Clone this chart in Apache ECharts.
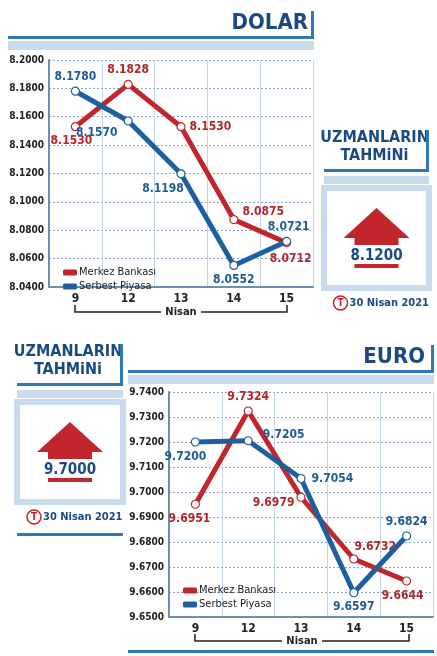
<!DOCTYPE html>
<html><head><meta charset="utf-8">
<script src="https://cdn.jsdelivr.net/npm/echarts@6/dist/echarts.min.js"></script>
<style>html,body{margin:0;padding:0;background:#fff}#c{width:437px;height:656px}</style>
</head><body><div id="c"></div>
<script>
const days = ['9','12','13','14','15'];
const dolarMerkez = [8.1530, 8.1828, 8.1530, 8.0875, 8.0712];
const dolarSerbest = [8.1780, 8.1570, 8.1198, 8.0552, 8.0721];
const euroMerkez = [9.6951, 9.7324, 9.6979, 9.6732, 9.6644];
const euroSerbest = [9.7200, 9.7205, 9.7054, 9.6597, 9.6824];
const dolarForecast = '8.1200';
const euroForecast = '9.7000';

const NAVY='#1b4a82', RED='#c0262c', BLUE='#1f5f9f', LB='#c9dcee', F='DejaVu Sans Condensed';
const lp = {
 dm:[['bottom',-4,0],['top',0,0],['right',0,0],['right',0,-8],['bottom',4,2]],
 ds:[['top',0,0],['left',-2,12],['bottom',-18,0],['bottom',0,0],['top',2,0]],
 em:[['bottom',-6,0],['top',0,0],['left',2,6],['right',-8,-12],['bottom',-4,0]],
 es:[['bottom',-10,0],['right',6,-6],['right',2,0],['bottom',0,0],['top',0,0]]
};
function ser(name,data,color,pos,xi){
 return {type:'line',name,xAxisIndex:xi,yAxisIndex:xi,color,
  lineStyle:{width:5,color},symbol:'circle',symbolSize:8,
  itemStyle:{color:'#fff',borderColor:color,borderWidth:1.2},
  data:data.map((v,i)=>({value:v,label:{position:pos[i][0],offset:[pos[i][1],pos[i][2]]}})),
  label:{show:true,color:color===RED?'#b2262b':'#1d5a96',fontFamily:F,fontSize:12,fontWeight:'bold',distance:4,formatter:p=>p.value.toFixed(4)},
  z:color===RED?3:4};
}
function yax(gi,min,max,iv){return {type:'value',gridIndex:gi,min,max,interval:iv,
 axisLabel:{formatter:v=>v.toFixed(4),color:'#222',fontFamily:F,fontWeight:'bold',fontSize:10,margin:5},
 axisLine:{show:true,lineStyle:{color:'#6b8fb5',width:2}},axisTick:{show:false},
 splitLine:{lineStyle:{color:'#8aa6c6',type:[2,2],width:1}}};}
function xax(gi){return {type:'category',gridIndex:gi,data:days,boundaryGap:true,
 axisLabel:{color:'#222',fontFamily:F,fontWeight:'bold',fontSize:12,margin:6,interval:0},
 axisLine:{lineStyle:{color:'#6b8fb5',width:2}},axisTick:{show:false},
 splitLine:{show:true,interval:0,lineStyle:{color:'#c5d6e8',width:1}}};}

function header(txt,x1,x2,y,tx,tsize){
 return [
  {type:'rect',shape:{x:x1,y:y,width:x2-x1,height:3},style:{fill:'#2e78b8'}},
  {type:'rect',shape:{x:x2-3,y:y-25,width:3,height:28},style:{fill:'#2e78b8'}},
  {type:'rect',shape:{x:x1,y:y+5,width:x2-x1,height:9},style:{fill:LB}},
  {type:'text',style:{text:txt,x:tx,y:y-2,textAlign:'right',textVerticalAlign:'bottom',fill:NAVY,font:'bold '+tsize+'px "'+F+'"'}}
 ];
}
function forecast(x1,x2,y1,val){
 const cx=(x1+x2)/2, G=[];
 G.push({type:'text',style:{text:'UZMANLARIN',x:cx-2,y:y1,textAlign:'center',textVerticalAlign:'top',fill:NAVY,font:'bold 16px "'+F+'"'}});
 G.push({type:'text',style:{text:'TAHMiNi',x:cx-2,y:y1+18,textAlign:'center',textVerticalAlign:'top',fill:NAVY,font:'bold 16px "'+F+'"'}});
 G.push({type:'rect',shape:{x:x1,y:y1+39,width:x2-x1,height:3},style:{fill:'#2e78b8'}});
 G.push({type:'rect',shape:{x:x2-3,y:y1,width:3,height:42},style:{fill:'#2e78b8'}});
 G.push({type:'rect',shape:{x:x1,y:y1+46,width:x2-x1,height:8},style:{fill:LB}});
 const by=y1+58;
 G.push({type:'rect',shape:{x:x1,y:by,width:x2-x1,height:100},style:{fill:'#fff',stroke:LB,lineWidth:6}});
 G.push({type:'polygon',shape:{points:[[cx-33,by+50],[cx,by+20],[cx+33,by+50]]},style:{fill:RED}});
 G.push({type:'rect',shape:{x:cx-22,y:by+49,width:44,height:8},style:{fill:RED}});
 G.push({type:'text',style:{text:val,x:cx,y:by+68,textAlign:'center',textVerticalAlign:'middle',fill:NAVY,font:'bold 15px "'+F+'"'}});
 G.push({type:'rect',shape:{x:cx-22,y:by+76,width:44,height:4},style:{fill:RED}});
 G.push({type:'circle',shape:{cx:cx-36,cy:by+115,r:7},style:{fill:'#fff',stroke:RED,lineWidth:1.5}});
 G.push({type:'text',style:{text:'T',x:cx-36,y:by+115,textAlign:'center',textVerticalAlign:'middle',fill:RED,font:'bold 10px "'+F+'"'}});
 G.push({type:'text',style:{text:'30 Nisan 2021',x:cx-27,y:by+115,textVerticalAlign:'middle',fill:NAVY,font:'bold 11px "'+F+'"'}});
 return G;
}
function bracket(x1,x2,y){
 const mx=(x1+x2)/2;
 return [
  {type:'polyline',shape:{points:[[x1,y-7],[x1,y],[mx-20,y]]},style:{stroke:'#222',lineWidth:1.5,fill:null}},
  {type:'polyline',shape:{points:[[mx+20,y],[x2,y],[x2,y-7]]},style:{stroke:'#222',lineWidth:1.5,fill:null}},
  {type:'text',style:{text:'Nisan',x:mx,y:y,textAlign:'center',textVerticalAlign:'middle',fill:'#222',font:'bold 11px "'+F+'"'}}
 ];
}
let g=[];
g=g.concat(header('DOLAR',8,314,36,308,22));
g=g.concat(header('EURO',128,434,370,425,22));
g.push({type:'rect',shape:{x:128,y:650,width:306,height:3},style:{fill:'#2e78b8'}});
g=g.concat(forecast(324,429,130,dolarForecast));
g=g.concat(forecast(17,123,344,euroForecast));
g.push({type:'rect',shape:{x:17,y:533,width:106,height:3},style:{fill:'#2e78b8'}});
g=g.concat(bracket(75,287,312));
g=g.concat(bracket(195,409,641));

const lgText={fontFamily:F,fontSize:11,color:'#222',padding:[0,0,0,-3]};
const chart=echarts.init(document.getElementById('c'));
chart.setOption({
 animation:false,
 grid:[{left:49,top:60,width:264,height:227},{left:169,top:392,width:264,height:225}],
 xAxis:[xax(0),xax(1)],
 yAxis:[yax(0,8.04,8.2,0.02),yax(1,9.65,9.74,0.01)],
 legend:[
  {data:[{name:'Merkez Bankası',itemStyle:{color:RED,borderWidth:0}},{name:'Serbest Piyasa',itemStyle:{color:BLUE,borderWidth:0}}],
   left:58,top:262,orient:'vertical',itemGap:3,itemWidth:14,itemHeight:6,icon:'roundRect',selectedMode:false,textStyle:lgText},
  {data:[{name:'Merkez Bankası2',itemStyle:{color:RED,borderWidth:0}},{name:'Serbest Piyasa2',itemStyle:{color:BLUE,borderWidth:0}}],
   left:178,top:580,orient:'vertical',itemGap:3,itemWidth:14,itemHeight:6,icon:'roundRect',selectedMode:false,
   formatter:n=>n.slice(0,-1),textStyle:lgText}
 ],
 series:[
  ser('Merkez Bankası',dolarMerkez,RED,lp.dm,0),
  ser('Serbest Piyasa',dolarSerbest,BLUE,lp.ds,0),
  ser('Merkez Bankası2',euroMerkez,RED,lp.em,1),
  ser('Serbest Piyasa2',euroSerbest,BLUE,lp.es,1)
 ],
 graphic:g
});
</script></body></html>
